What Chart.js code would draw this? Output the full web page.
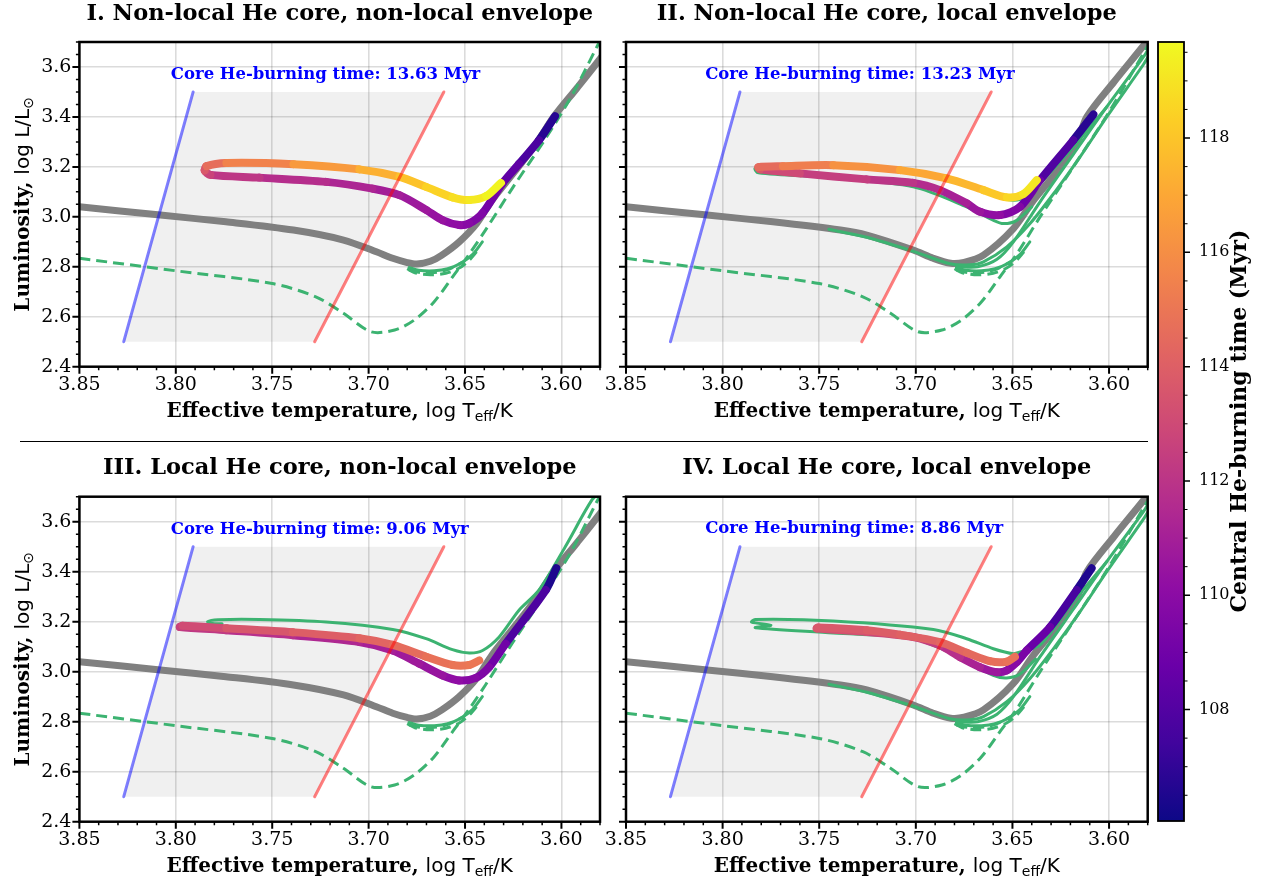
<!DOCTYPE html>
<html>
<head>
<meta charset="utf-8">
<title>Core He-burning loops</title>
<script src="https://cdn.jsdelivr.net/npm/chart.js@4.4.1/dist/chart.umd.min.js"></script>
<style>
  html, body { margin: 0; padding: 0; background: #fff; }
  body { width: 1262px; height: 881px; position: relative; overflow: hidden; }
  canvas { position: absolute; }
  #sep { position: absolute; left: 20px; top: 441px; width: 1128px; height: 0; border-top: 1.5px solid #000; }
</style>
</head>
<body>
<canvas id="p1" width="612" height="440" style="left:0;top:0"></canvas>
<canvas id="p2" width="600" height="440" style="left:560px;top:0"></canvas>
<canvas id="p3" width="612" height="436" style="left:0;top:445px"></canvas>
<canvas id="p4" width="600" height="436" style="left:560px;top:445px"></canvas>
<canvas id="cb" width="112" height="881" style="left:1150px;top:0"></canvas>
<div id="sep"></div>
<script>
// ---- axis ticks ----
const tempTicks = [3.85, 3.80, 3.75, 3.70, 3.65, 3.60];
const lumTicks = [2.4, 2.6, 2.8, 3.0, 3.2, 3.4, 3.6];
const timeTicks = [108, 110, 112, 114, 116, 118];
const timeRange = [106.05, 119.68];

// ---- instability strip ----
const blueEdgeT = [3.827, 3.791];
const blueEdgeL = [2.50, 3.50];
const redEdgeT = [3.728, 3.661];
const redEdgeL = [2.50, 3.50];
const stripT = [3.827, 3.791, 3.661, 3.728];
const stripL = [2.50, 3.50, 3.50, 2.50];

// ---- grey track, non-local envelope (I, III) ----
const greyNlT = [3.850, 3.808, 3.774, 3.739, 3.713, 3.696, 3.6875, 3.680, 3.675, 3.668, 3.662, 3.653, 3.644, 3.636, 3.625, 3.613, 3.604, 3.592, 3.580, 3.577];
const greyNlL = [3.040, 3.007, 2.980, 2.947, 2.907, 2.860, 2.834, 2.817, 2.811, 2.822, 2.847, 2.900, 2.973, 3.067, 3.174, 3.294, 3.400, 3.515, 3.632, 3.665];
// ---- grey track, local envelope (II, IV) ----
const greyLoT = [3.850, 3.808, 3.774, 3.739, 3.7254, 3.7013, 3.691, 3.682, 3.675, 3.665, 3.6495, 3.639, 3.625, 3.6167, 3.6115, 3.5975, 3.5813, 3.578];
const greyLoL = [3.040, 3.007, 2.980, 2.947, 2.927, 2.867, 2.834, 2.814, 2.818, 2.847, 2.953, 3.067, 3.200, 3.294, 3.400, 3.540, 3.694, 3.730];

// ---- green dashed tracks ----
const dashNlT = [3.850, 3.800, 3.750, 3.7274, 3.7131, 3.6988, 3.6865, 3.6763, 3.666, 3.6558, 3.6476, 3.6394, 3.625, 3.6088, 3.595, 3.5812, 3.579];
const dashNlL = [2.834, 2.784, 2.733, 2.680, 2.614, 2.540, 2.547, 2.587, 2.660, 2.767, 2.853, 2.947, 3.120, 3.307, 3.480, 3.687, 3.720];
const dashLoT = [3.850, 3.800, 3.750, 3.7274, 3.7131, 3.6988, 3.6865, 3.6763, 3.666, 3.6558, 3.6476, 3.6357, 3.6185, 3.600, 3.5813, 3.578];
const dashLoL = [2.834, 2.784, 2.733, 2.680, 2.614, 2.540, 2.547, 2.587, 2.660, 2.767, 2.853, 3.000, 3.200, 3.420, 3.667, 3.710];
const hookDashT = [3.680, 3.676, 3.668, 3.660, 3.653, 3.648, 3.644];
const hookDashL = [2.792, 2.776, 2.768, 2.774, 2.795, 2.825, 2.860];
const hookDash2T = [3.679, 3.672, 3.664, 3.657, 3.651];
const hookDash2L = [2.787, 2.776, 2.779, 2.795, 2.820];

// ---- green solid tracks ----
const hookSolidT = [3.679, 3.674, 3.666, 3.659, 3.652, 3.646, 3.641];
const hookSolidL = [2.797, 2.786, 2.784, 2.792, 2.815, 2.850, 2.900];
const loop2T = [3.6012, 3.6185, 3.6392, 3.646, 3.6529, 3.665, 3.684, 3.7082, 3.7427, 3.7772, 3.7832, 3.7815, 3.7427, 3.7013, 3.6737, 3.660, 3.6547, 3.648, 3.640];
const loop2L = [3.440, 3.280, 3.107, 3.070, 3.070, 3.107, 3.160, 3.190, 3.210, 3.207, 3.194, 3.176, 3.156, 3.120, 3.040, 2.987, 2.973, 2.985, 3.040];
const loop3T = [3.579, 3.584, 3.598, 3.6116, 3.622, 3.6323, 3.6409, 3.6478, 3.6565, 3.6702, 3.6875, 3.722, 3.7565, 3.778, 3.7835, 3.781, 3.776];
const loop3L = [3.720, 3.689, 3.500, 3.327, 3.246, 3.139, 3.085, 3.075, 3.088, 3.132, 3.169, 3.199, 3.209, 3.208, 3.200, 3.193, 3.192];
const loop4T = [3.6012, 3.6185, 3.6357, 3.646, 3.6495, 3.6599, 3.6737, 3.6909, 3.7427, 3.7832, 3.785, 3.775, 3.783, 3.7427, 3.7013, 3.6771, 3.6599, 3.653, 3.646, 3.638];
const loop4L = [3.440, 3.280, 3.107, 3.079, 3.072, 3.092, 3.132, 3.169, 3.203, 3.209, 3.198, 3.186, 3.176, 3.155, 3.132, 3.058, 2.985, 2.975, 2.991, 3.050];
const rgbLoT = [3.745, 3.7254, 3.7013, 3.6823, 3.672, 3.665, 3.6529, 3.6409, 3.628, 3.615, 3.6012, 3.5822, 3.579];
const rgbLoL = [2.950, 2.918, 2.862, 2.812, 2.808, 2.820, 2.880, 2.973, 3.100, 3.240, 3.400, 3.610, 3.650];
const rgbLo2T = [3.678, 3.668, 3.658, 3.6495, 3.6357, 3.6185, 3.6012, 3.5822, 3.579];
const rgbLo2L = [2.800, 2.800, 2.830, 2.900, 3.060, 3.250, 3.440, 3.640, 3.680];

// ---- core He-burning tracks, coloured by time (Myr) ----
const trackIT = [3.6033, 3.6116, 3.6220, 3.6306, 3.6410, 3.6478, 3.6530, 3.6617, 3.6700, 3.6840, 3.6980, 3.7220, 3.7565, 3.7820, 3.7850, 3.7840, 3.7738, 3.7390, 3.7048, 3.6840, 3.6702, 3.6565, 3.6478, 3.6390, 3.6314];
const trackIL = [3.403, 3.307, 3.212, 3.134, 3.014, 2.974, 2.967, 2.987, 3.027, 3.087, 3.113, 3.140, 3.157, 3.168, 3.185, 3.203, 3.216, 3.211, 3.190, 3.160, 3.120, 3.078, 3.067, 3.083, 3.136];
const trackItime = [106.05, 107.41, 108.09, 108.78, 109.46, 109.73, 110.0, 110.28, 110.55, 110.82, 111.09, 111.5, 111.91, 112.32, 113.14, 114.23, 115.05, 116.0, 116.95, 117.64, 118.18, 118.73, 119.0, 119.34, 119.68];

const trackIIT = [3.6081, 3.6185, 3.6357, 3.6460, 3.6564, 3.6667, 3.6737, 3.6875, 3.7013, 3.7254, 3.7600, 3.7806, 3.7815, 3.7688, 3.7427, 3.7082, 3.6841, 3.6650, 3.6529, 3.6444, 3.6374];
const trackIIL = [3.410, 3.307, 3.147, 3.040, 3.007, 3.020, 3.054, 3.107, 3.136, 3.150, 3.174, 3.190, 3.199, 3.203, 3.207, 3.187, 3.154, 3.107, 3.078, 3.091, 3.147];
const trackIItime = [106.1, 107.4, 108.4, 109.3, 110.0, 110.4, 110.8, 111.4, 111.8, 112.2, 112.7, 113.3, 114.0, 115.1, 115.6, 116.7, 117.3, 117.8, 118.4, 118.8, 119.33];

const trackIIIT = [3.6027, 3.6081, 3.6289, 3.6375, 3.6444, 3.6530, 3.6616, 3.6737, 3.6875, 3.7048, 3.7393, 3.7738, 3.7979, 3.7965, 3.7738, 3.7393, 3.7048, 3.6875, 3.6702, 3.6565, 3.6478, 3.6426];
const trackIIIL = [3.414, 3.327, 3.112, 3.018, 2.975, 2.965, 2.985, 3.032, 3.085, 3.119, 3.146, 3.166, 3.179, 3.184, 3.174, 3.158, 3.134, 3.107, 3.060, 3.027, 3.027, 3.045];
const trackIIItime = [106.05, 106.9, 108.7, 109.3, 109.7, 110.0, 110.3, 110.6, 110.9, 111.2, 111.6, 112.0, 112.4, 112.8, 113.4, 113.8, 114.1, 114.4, 114.7, 114.9, 115.0, 115.11];

const trackIVT = [3.6090, 3.6167, 3.6305, 3.6426, 3.6478, 3.6530, 3.6581, 3.6668, 3.6771, 3.6875, 3.7013, 3.7254, 3.7513, 3.7505, 3.7254, 3.7082, 3.6875, 3.6737, 3.6616, 3.6530, 3.6487];
const trackIVL = [3.414, 3.327, 3.179, 3.085, 3.038, 3.005, 2.998, 3.018, 3.058, 3.105, 3.139, 3.159, 3.173, 3.177, 3.166, 3.148, 3.118, 3.076, 3.042, 3.040, 3.060];
const trackIVtime = [106.05, 107.0, 108.3, 109.1, 109.6, 110.0, 110.4, 110.9, 111.5, 112.1, 112.6, 113.1, 113.5, 113.6, 113.8, 114.0, 114.2, 114.4, 114.6, 114.75, 114.91];

const burnTimes = ['13.63', '13.23', '9.06', '8.86'];
const panelTitles = [
  'I. Non-local He core, non-local envelope',
  'II. Non-local He core, local envelope',
  'III. Local He core, non-local envelope',
  'IV. Local He core, local envelope'
];

// plasma colormap
const plasmaStops = ['#0d0887', '#41049d', '#6a00a8', '#8f0da4', '#b12a90', '#cc4778', '#e16462', '#f2844b', '#fca636', '#fcce25', '#f0f921'];
function hexRgb(h) { return [1, 3, 5].map(i => parseInt(h.substr(i, 2), 16)); }
function plasma(f) {
  f = Math.min(1, Math.max(0, f));
  const s = f * (plasmaStops.length - 1);
  const i = Math.min(Math.floor(s), plasmaStops.length - 2), u = s - i;
  const a = hexRgb(plasmaStops[i]), b = hexRgb(plasmaStops[i + 1]);
  return 'rgb(' + a.map((v, k) => Math.round(v + (b[k] - v) * u)).join(',') + ')';
}
function timeFrac(t) { return (t - timeRange[0]) / (timeRange[1] - timeRange[0]); }
function pts(T, L) { return T.map((t, i) => ({x: t, y: L[i]})); }

const serifB = px => 'bold ' + px + 'px "DejaVu Serif"';
const sans = px => px + 'px "DejaVu Sans"';

// text made of runs in different fonts, centred on cx
function drawRuns(ctx, runs, cx, cy) {
  let total = 0;
  runs.forEach(r => { ctx.font = r.font; r.w = ctx.measureText(r.text).width; total += r.w; });
  let x = cx - total / 2;
  ctx.textAlign = 'left';
  ctx.textBaseline = 'alphabetic';
  runs.forEach(r => { ctx.font = r.font; ctx.fillText(r.text, x, cy + (r.dy || 0)); x += r.w; });
}

function tickMarks(ctx, scale, values, len, width, horizontal, edge) {
  ctx.lineWidth = width;
  ctx.beginPath();
  values.forEach(v => {
    const p = scale.getPixelForValue(v);
    if (horizontal) { ctx.moveTo(p, edge); ctx.lineTo(p, edge + len); }
    else { ctx.moveTo(edge, p); ctx.lineTo(edge - len, p); }
  });
  ctx.stroke();
}

const minorT = [], minorL = [], minorTime = [];
for (let i = 358; i <= 385; i++) if (i % 5) minorT.push(i / 100);
for (let i = 48; i <= 74; i++) if (i % 4) minorL.push(i / 20);
for (let i = 213; i <= 239; i++) if (i % 4) minorTime.push(i / 2);

const hrDecor = {
  id: 'hrDecor',
  beforeDatasetsDraw(chart) {
    const {ctx, scales: {x, y}} = chart;
    ctx.save();
    ctx.beginPath();
    stripT.forEach((t, i) => {
      const px = x.getPixelForValue(t), py = y.getPixelForValue(stripL[i]);
      if (i) ctx.lineTo(px, py); else ctx.moveTo(px, py);
    });
    ctx.closePath();
    ctx.fillStyle = 'rgba(0,0,0,0.06)';
    ctx.fill();
    ctx.restore();
  },
  afterDraw(chart, args, opts) {
    const {ctx, chartArea: a, scales: {x, y}} = chart;
    ctx.save();
    // annotation
    ctx.font = serifB(16.5);
    ctx.fillStyle = '#0000ff';
    ctx.textAlign = 'left';
    ctx.textBaseline = 'middle';
    ctx.fillText('Core He-burning time: ' + opts.burn + ' Myr', x.getPixelForValue(opts.annotT), y.getPixelForValue(opts.annotL));
    // frame and ticks
    ctx.strokeStyle = '#000';
    ctx.lineWidth = 2.5;
    ctx.strokeRect(a.left, a.top, a.right - a.left, a.bottom - a.top);
    tickMarks(ctx, x, tempTicks, 7, 2, true, a.bottom);
    tickMarks(ctx, x, minorT, 3.5, 1.5, true, a.bottom);
    tickMarks(ctx, y, lumTicks, 7, 2, false, a.left);
    tickMarks(ctx, y, minorL, 3.5, 1.5, false, a.left);
    // axis labels
    ctx.fillStyle = '#000';
    const cx = (a.left + a.right) / 2;
    drawRuns(ctx, [
      {text: 'Effective temperature, ', font: serifB(20)},
      {text: 'log ', font: sans(20)},
      {text: 'T', font: sans(20)},
      {text: 'eff', font: sans(14), dy: 4},
      {text: '/K', font: sans(20)}
    ], cx, a.bottom + 50);
    if (opts.yLabel) {
      ctx.translate(21, (a.top + a.bottom) / 2);
      ctx.rotate(-Math.PI / 2);
      drawRuns(ctx, [
        {text: 'Luminosity, ', font: serifB(20)},
        {text: 'log L/L', font: sans(20)},
        {text: '\u2299', font: sans(14), dy: 4}
      ], 0, 7.5);
    }
    ctx.restore();
  }
};

const tickFont = {family: 'DejaVu Serif', size: 19};
const gridStyle = {color: 'rgba(0,0,0,0.14)', lineWidth: 1.6, drawTicks: false};

function makePanel(id, cfg) {
  const line = (T, L, extra) => Object.assign({
    data: pts(T, L), showLine: true, pointRadius: 0, fill: false, tension: 0.3,
    borderCapStyle: 'round', borderJoinStyle: 'round'
  }, extra);
  const times = cfg.time;
  const datasets = [
    line(blueEdgeT, blueEdgeL, {borderColor: 'rgba(0,0,255,0.5)', borderWidth: 3, tension: 0, order: 0}),
    line(redEdgeT, redEdgeL, {borderColor: 'rgba(255,0,0,0.5)', borderWidth: 3, tension: 0, order: 0}),
    line(cfg.T, cfg.L, {
      borderWidth: 8, order: 1, borderColor: plasma(0),
      segment: {borderColor: c => plasma(timeFrac((times[c.p0DataIndex] + times[c.p1DataIndex]) / 2))}
    })
  ];
  cfg.solid.forEach(([T, L]) => datasets.push(line(T, L, {borderColor: '#3cb371', borderWidth: 3, order: 2})));
  cfg.dashed.forEach(([T, L]) => datasets.push(line(T, L, {borderColor: '#3cb371', borderWidth: 3, borderDash: [11, 6], borderCapStyle: 'butt', order: 3})));
  datasets.push(line(cfg.greyT, cfg.greyL, {borderColor: '#808080', borderWidth: 7, order: 4}));

  return new Chart(document.getElementById(id), {
    type: 'scatter',
    data: {datasets},
    options: {
      responsive: false, animation: false, events: [],
      layout: {padding: {left: 0, right: cfg.padRight, top: 0, bottom: 0}},
      plugins: {
        legend: {display: false}, tooltip: {enabled: false},
        title: {
          display: true, text: cfg.title, color: '#000', fullSize: false,
          font: {family: 'DejaVu Serif', size: 22.5, weight: 'bold'},
          padding: {top: cfg.titleTop, bottom: cfg.titleBottom}
        },
        hrDecor: {burn: cfg.burn, annotT: cfg.annotT, annotL: cfg.annotL, yLabel: cfg.yLabel}
      },
      scales: {
        x: {
          type: 'linear', reverse: true, min: 3.58, max: 3.85,
          afterBuildTicks: s => { s.ticks = tempTicks.map(v => ({value: v})); },
          afterFit: s => { s.height = cfg.xHeight; },
          ticks: {callback: v => v.toFixed(2), font: tickFont, color: '#000', padding: 7, maxRotation: 0, autoSkip: false},
          grid: gridStyle, border: {display: false}
        },
        y: {
          type: 'linear', min: 2.4, max: 3.7,
          afterBuildTicks: s => { s.ticks = lumTicks.map(v => ({value: v})); },
          afterFit: s => { s.width = cfg.yWidth; },
          ticks: {display: cfg.yLabel, callback: v => v.toFixed(1), font: tickFont, color: '#000', padding: 8, autoSkip: false},
          grid: gridStyle, border: {display: false}
        }
      }
    },
    plugins: [hrDecor]
  });
}

const nlDashed = [[dashNlT, dashNlL], [hookDashT, hookDashL], [hookDash2T, hookDash2L]];
const loDashed = [[dashLoT, dashLoL], [hookDashT, hookDashL], [hookDash2T, hookDash2L]];

makePanel('p1', {
  title: panelTitles[0], burn: burnTimes[0], annotT: 3.8026, annotL: 3.571, yLabel: true,
  T: trackIT, L: trackIL, time: trackItime, greyT: greyNlT, greyL: greyNlL,
  solid: [[hookSolidT, hookSolidL]], dashed: nlDashed,
  yWidth: 79.4, xHeight: 73.3, padRight: 12, titleTop: 0.5, titleBottom: 14.5
});
makePanel('p2', {
  title: panelTitles[1], burn: burnTimes[1], annotT: 3.809, annotL: 3.571, yLabel: false,
  T: trackIIT, L: trackIIL, time: trackIItime, greyT: greyLoT, greyL: greyLoL,
  solid: [[loop2T, loop2L], [rgbLoT, rgbLoL], [rgbLo2T, rgbLo2L], [hookSolidT, hookSolidL]], dashed: loDashed,
  yWidth: 66, xHeight: 73.3, padRight: 12.3, titleTop: 0.5, titleBottom: 14.5
});
makePanel('p3', {
  title: panelTitles[2], burn: burnTimes[2], annotT: 3.8026, annotL: 3.568, yLabel: true,
  T: trackIIIT, L: trackIIIL, time: trackIIItime, greyT: greyNlT, greyL: greyNlL,
  solid: [[loop3T, loop3L], [hookSolidT, hookSolidL]], dashed: nlDashed,
  yWidth: 79.4, xHeight: 59.3, padRight: 12, titleTop: 9.5, titleBottom: 15.2
});
makePanel('p4', {
  title: panelTitles[3], burn: burnTimes[3], annotT: 3.809, annotL: 3.570, yLabel: false,
  T: trackIVT, L: trackIVL, time: trackIVtime, greyT: greyLoT, greyL: greyLoL,
  solid: [[loop4T, loop4L], [rgbLoT, rgbLoL], [rgbLo2T, rgbLo2L], [hookSolidT, hookSolidL]], dashed: loDashed,
  yWidth: 66, xHeight: 59.3, padRight: 12.3, titleTop: 9.5, titleBottom: 15.2
});

// colour bar
const colorbar = {
  id: 'colorbar',
  beforeDatasetsDraw(chart) {
    const {ctx, chartArea: a} = chart;
    const g = ctx.createLinearGradient(0, a.bottom, 0, a.top);
    plasmaStops.forEach((c, i) => g.addColorStop(i / (plasmaStops.length - 1), c));
    ctx.save();
    ctx.fillStyle = g;
    ctx.fillRect(a.left, a.top, a.right - a.left, a.bottom - a.top);
    ctx.restore();
  },
  afterDraw(chart) {
    const {ctx, chartArea: a, scales: {y}} = chart;
    ctx.save();
    ctx.strokeStyle = '#000';
    ctx.lineWidth = 1.8;
    ctx.strokeRect(a.left, a.top, a.right - a.left, a.bottom - a.top);
    tickMarks(ctx, y, timeTicks, -6, 1.5, false, a.right);
    tickMarks(ctx, y, minorTime, -3.5, 1, false, a.right);
    ctx.fillStyle = '#000';
    ctx.translate(88, 421);
    ctx.rotate(-Math.PI / 2);
    drawRuns(ctx, [{text: 'Central He-burning time (Myr)', font: serifB(22)}], 0, 8);
    ctx.restore();
  }
};

new Chart(document.getElementById('cb'), {
  type: 'scatter',
  data: {datasets: []},
  options: {
    responsive: false, animation: false, events: [],
    layout: {padding: {left: 8, top: 42, bottom: 60, right: 0}},
    plugins: {legend: {display: false}, tooltip: {enabled: false}},
    scales: {
      x: {display: false, min: 0, max: 1},
      y: {
        position: 'right', min: timeRange[0], max: timeRange[1],
        afterBuildTicks: s => { s.ticks = timeTicks.map(v => ({value: v})); },
        afterFit: s => { s.width = 78; },
        ticks: {font: {family: 'DejaVu Serif', size: 16}, color: '#000', padding: 15},
        grid: {drawOnChartArea: false, drawTicks: false}, border: {display: false}
      }
    }
  },
  plugins: [colorbar]
});
</script>
</body>
</html>
